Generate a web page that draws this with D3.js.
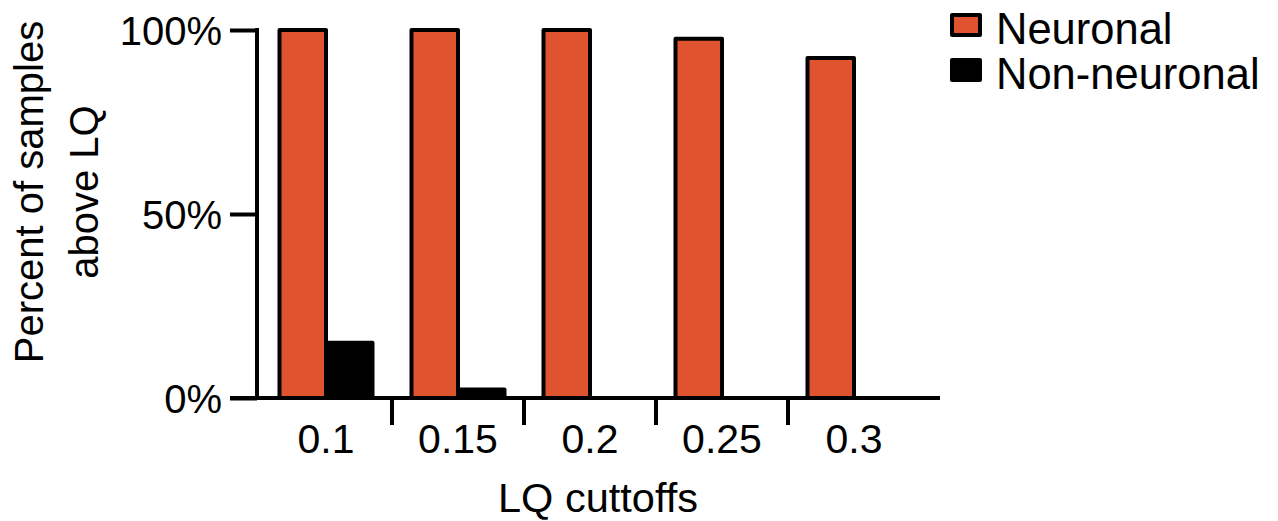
<!DOCTYPE html>
<html>
<head>
<meta charset="utf-8">
<script src="https://cdn.jsdelivr.net/npm/d3@7/dist/d3.min.js"></script>
<style>
  html, body { margin: 0; padding: 0; background: #fff; }
  svg { display: block; }
  text { font-family: "Liberation Sans", Arial, Helvetica, sans-serif; fill: #000; }
</style>
</head>
<body>
<svg id="chart" width="1278" height="521"></svg>
<script>
// LQ cutoff categories and the share of samples above each cutoff
const categories = ["0.1", "0.15", "0.2", "0.25", "0.3"];
const seriesNames = ["Neuronal", "Non-neuronal"];
const neuronal = [100, 100, 100, 97.6, 92.4];
const nonNeuronal = [15.0, 2.3, 0, 0, 0];
const yTicks = [0, 50, 100];
const colors = ["#DF532E", "#000000"];

const svg = d3.select("#chart");
const plot = { left: 260, right: 920, top: 30, bottom: 398 };

const x0 = d3.scaleBand().domain(categories).range([plot.left, plot.right]).paddingInner(0).paddingOuter(0);
const x1 = d3.scaleBand().domain(seriesNames)
  .range([19.5, x0.bandwidth() - 19.5]).padding(0);
const y = d3.scaleLinear().domain([0, 100]).range([plot.bottom, plot.top]);

const values = [neuronal, nonNeuronal];
const rows = [];
seriesNames.forEach((s, si) => {
  categories.forEach((c, ci) => rows.push({ s, si, c, v: values[si][ci] }));
});

// bars
svg.append("g").selectAll("rect")
  .data(rows.filter(d => d.v > 0))
  .join("rect")
  .attr("x", d => x0(d.c) + x1(d.s))
  .attr("width", x1.bandwidth())
  .attr("y", d => y(d.v))
  .attr("height", d => y(0) - y(d.v))
  .attr("fill", d => colors[d.si])
  .attr("stroke", "#000")
  .attr("stroke-width", 4)
  .attr("stroke-linejoin", "round");

// y axis
const axisX = 257;
const yAxis = svg.append("g").attr("transform", `translate(${axisX},0)`)
  .call(d3.axisLeft(y).tickValues(yTicks).tickSize(27).tickPadding(8).tickFormat(d => d + "%"));
yAxis.select(".domain").remove();
yAxis.selectAll(".tick line").attr("stroke", "#000").attr("stroke-width", 4);
yAxis.selectAll(".tick text").attr("font-size", 40).attr("font-family", "Liberation Sans, Arial, sans-serif").attr("dy", "0.35em");
svg.append("line")
  .attr("x1", axisX).attr("x2", axisX)
  .attr("y1", y(100) - 2).attr("y2", y(0))
  .attr("stroke", "#000").attr("stroke-width", 4);

// x axis baseline
svg.append("line")
  .attr("x1", 230).attr("x2", 940)
  .attr("y1", y(0)).attr("y2", y(0))
  .attr("stroke", "#000").attr("stroke-width", 4);

// separator ticks between groups
svg.append("g").selectAll("line")
  .data(categories.slice(1))
  .join("line")
  .attr("x1", d => x0(d)).attr("x2", d => x0(d))
  .attr("y1", y(0)).attr("y2", y(0) + 27)
  .attr("stroke", "#000").attr("stroke-width", 4);

// category labels
svg.append("g").selectAll("text")
  .data(categories)
  .join("text")
  .attr("x", d => x0(d) + x0.bandwidth() / 2)
  .attr("y", 453)
  .attr("text-anchor", "middle")
  .attr("font-size", 41)
  .text(d => d);

// axis titles
svg.append("text")
  .attr("x", 598).attr("y", 512)
  .attr("text-anchor", "middle")
  .attr("font-size", 41.5)
  .text("LQ cuttoffs");

const yTitle = ["Percent of samples", "above LQ"];
svg.append("g").selectAll("text")
  .data(yTitle)
  .join("text")
  .attr("transform", (d, i) => `translate(${43 + i * 55},192) rotate(-90)`)
  .attr("text-anchor", "middle")
  .attr("font-size", 40)
  .text(d => d);

// legend
const legend = svg.append("g").selectAll("g")
  .data(seriesNames)
  .join("g")
  .attr("transform", (d, i) => `translate(952,${15 + i * 45})`);
legend.append("rect")
  .attr("width", 28).attr("height", 20)
  .attr("fill", (d, i) => colors[i])
  .attr("stroke", "#000").attr("stroke-width", 4)
  .attr("stroke-linejoin", "round");
legend.append("text")
  .attr("x", 44).attr("y", 28.5)
  .attr("font-size", 43.5)
  .text(d => d);
</script>
</body>
</html>
